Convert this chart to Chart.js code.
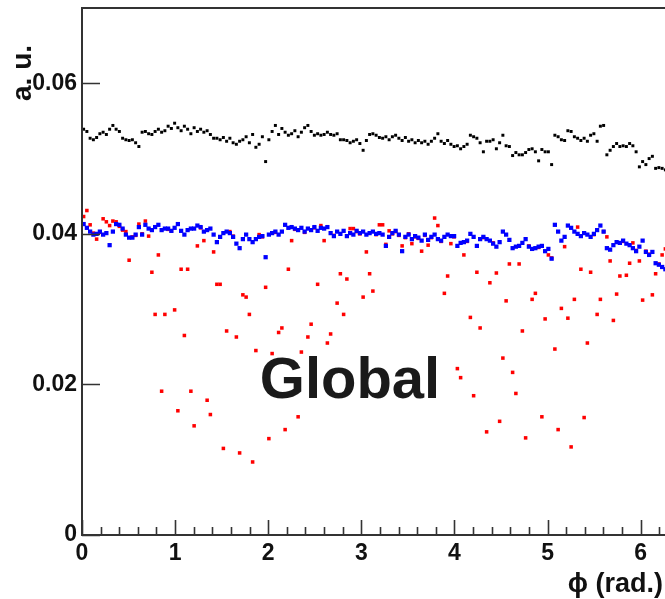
<!DOCTYPE html>
<html>
<head>
<meta charset="utf-8">
<script src="https://cdn.jsdelivr.net/npm/chart.js@4/dist/chart.umd.min.js"></script>
<style>
  html, body { margin: 0; padding: 0; background: #fff; overflow: hidden; }
  #wrap { position: absolute; left: 0; top: 0; width: 700px; height: 599px; }
</style>
</head>
<body>
<div id="wrap"><canvas id="phiChart" width="700" height="599"></canvas></div>
<script>
// phi distributions, 180 bins over [0, 2pi], arbitrary units
const nBins = 180;
const phiMax = 2 * Math.PI;

const hBlack = [
  0.0539,0.0536,0.0527,0.0525,0.0528,0.0533,0.0535,0.0532,0.0539,0.0544,
  0.0539,0.0536,0.0527,0.0525,0.0524,0.0525,0.0521,0.0516,0.0535,0.0536,
  0.0533,0.0532,0.0536,0.0539,0.0535,0.0537,0.0543,0.0540,0.0547,0.0541,
  0.0537,0.0543,0.0539,0.0533,0.0541,0.0536,0.0539,0.0535,0.0537,0.0532,
  0.0527,0.0527,0.0525,0.0528,0.0523,0.0527,0.0521,0.0519,0.0523,0.0525,
  0.0529,0.0521,0.0532,0.0515,0.0519,0.0529,0.0496,0.0525,0.0536,0.0544,
  0.0532,0.0540,0.0535,0.0531,0.0533,0.0537,0.0529,0.0535,0.0541,0.0544,
  0.0536,0.0531,0.0533,0.0531,0.0532,0.0535,0.0532,0.0531,0.0533,0.0525,
  0.0525,0.0524,0.0521,0.0523,0.0525,0.0520,0.0511,0.0524,0.0532,0.0533,
  0.0531,0.0528,0.0527,0.0529,0.0525,0.0529,0.0531,0.0527,0.0524,0.0528,
  0.0523,0.0525,0.0521,0.0524,0.0521,0.0523,0.0519,0.0523,0.0527,0.0533,
  0.0523,0.0520,0.0524,0.0519,0.0516,0.0517,0.0513,0.0516,0.0519,0.0531,
  0.0529,0.0527,0.0521,0.0509,0.0523,0.0523,0.0525,0.0513,0.0521,0.0531,
  0.0517,0.0516,0.0504,0.0508,0.0505,0.0505,0.0508,0.0512,0.0513,0.0509,
  0.0497,0.0512,0.0509,0.0509,0.0492,0.0531,0.0529,0.0525,0.0524,0.0537,
  0.0536,0.0529,0.0527,0.0524,0.0527,0.0523,0.0531,0.0533,0.0523,0.0543,
  0.0544,0.0505,0.0511,0.0516,0.0520,0.0516,0.0517,0.0516,0.0520,0.0517,
  0.0509,0.0489,0.0496,0.0492,0.0500,0.0503,0.0487,0.0488,0.0487,0.0485
];

const hBlue = [
  0.0413,0.0408,0.0403,0.0399,0.0400,0.0403,0.0399,0.0401,0.0385,0.0403,
  0.0413,0.0412,0.0407,0.0399,0.0395,0.0395,0.0399,0.0409,0.0399,0.0412,
  0.0407,0.0405,0.0409,0.0412,0.0405,0.0407,0.0407,0.0404,0.0408,0.0413,
  0.0404,0.0399,0.0405,0.0407,0.0407,0.0411,0.0409,0.0403,0.0405,0.0407,
  0.0399,0.0389,0.0396,0.0401,0.0403,0.0401,0.0396,0.0387,0.0381,0.0393,
  0.0399,0.0393,0.0389,0.0393,0.0396,0.0397,0.0369,0.0399,0.0401,0.0403,
  0.0399,0.0403,0.0412,0.0408,0.0409,0.0407,0.0405,0.0408,0.0403,0.0407,
  0.0405,0.0409,0.0404,0.0408,0.0407,0.0409,0.0401,0.0397,0.0403,0.0400,
  0.0404,0.0397,0.0401,0.0399,0.0404,0.0401,0.0403,0.0399,0.0401,0.0403,
  0.0400,0.0401,0.0399,0.0384,0.0396,0.0401,0.0404,0.0399,0.0377,0.0396,
  0.0399,0.0393,0.0397,0.0395,0.0391,0.0399,0.0392,0.0396,0.0399,0.0393,
  0.0391,0.0396,0.0399,0.0397,0.0397,0.0384,0.0388,0.0389,0.0391,0.0400,
  0.0396,0.0384,0.0393,0.0396,0.0393,0.0391,0.0387,0.0383,0.0389,0.0403,
  0.0399,0.0392,0.0381,0.0383,0.0384,0.0388,0.0393,0.0383,0.0380,0.0381,
  0.0383,0.0384,0.0377,0.0380,0.0367,0.0412,0.0403,0.0391,0.0396,0.0411,
  0.0408,0.0403,0.0400,0.0397,0.0401,0.0399,0.0396,0.0400,0.0405,0.0411,
  0.0403,0.0381,0.0379,0.0385,0.0389,0.0388,0.0391,0.0387,0.0385,0.0381,
  0.0377,0.0383,0.0391,0.0376,0.0372,0.0376,0.0361,0.0359,0.0356,0.0353
];

const hRed = [
  0.0423,0.0431,0.0412,0.0401,0.0393,0.0402,0.0420,0.0416,0.0411,0.0417,
  0.0416,0.0410,0.0405,0.0403,0.0365,0.0396,0.0398,0.0413,0.0400,0.0417,
  0.0397,0.0349,0.0293,0.0372,0.0191,0.0293,0.0406,0.0404,0.0299,0.0165,
  0.0353,0.0265,0.0353,0.0191,0.0145,0.0384,0.0408,0.0391,0.0179,0.0160,
  0.0376,0.0333,0.0333,0.0115,0.0271,0.0403,0.0397,0.0263,0.0109,0.0319,
  0.0316,0.0293,0.0097,0.0245,0.0399,0.0396,0.0329,0.0128,0.0241,0.0402,
  0.0269,0.0275,0.0140,0.0353,0.0391,0.0406,0.0157,0.0243,0.0402,0.0263,
  0.0280,0.0408,0.0333,0.0411,0.0391,0.0255,0.0267,0.0398,0.0308,0.0347,
  0.0293,0.0340,0.0407,0.0407,0.0403,0.0400,0.0316,0.0376,0.0347,0.0324,
  0.0399,0.0412,0.0412,0.0386,0.0404,0.0400,0.0403,0.0398,0.0384,0.0395,
  0.0400,0.0387,0.0396,0.0394,0.0377,0.0398,0.0385,0.0395,0.0421,0.0411,
  0.0390,0.0321,0.0344,0.0387,0.0396,0.0221,0.0209,0.0372,0.0390,0.0289,
  0.0185,0.0349,0.0275,0.0395,0.0137,0.0335,0.0388,0.0348,0.0151,0.0235,
  0.0311,0.0360,0.0216,0.0188,0.0360,0.0271,0.0129,0.0384,0.0313,0.0321,
  0.0382,0.0157,0.0287,0.0372,0.0368,0.0247,0.0140,0.0301,0.0383,0.0288,
  0.0117,0.0313,0.0409,0.0353,0.0156,0.0255,0.0349,0.0399,0.0293,0.0313,
  0.0403,0.0396,0.0364,0.0285,0.0320,0.0344,0.0390,0.0345,0.0361,0.0388,
  0.0378,0.0364,0.0312,0.0377,0.0373,0.0319,0.0347,0.0360,0.0372,0.0380
];

const xTicks = [0, 1, 2, 3, 4, 5, 6];
const yTicks = [0, 0.02, 0.04, 0.06];
const yTickLabels = ['0', '0.02', '0.04', '0.06'];

const FONT = '"Liberation Sans", Arial, Helvetica, sans-serif';

// bin centres
const binWidth = phiMax / nBins;
const toPoints = h => h.map((v, i) => ({ x: (i + 0.5) * binWidth, y: v }));

// ROOT-like frame: axis lines, inward ticks, titles and the big label
const framePlugin = {
  id: 'frame',
  afterDraw(chart) {
    const { ctx, chartArea: a, scales: { x, y } } = chart;
    ctx.save();
    ctx.strokeStyle = '#333';
    ctx.lineWidth = 2;
    ctx.beginPath();
    ctx.moveTo(a.left, a.top);
    ctx.lineTo(a.right, a.top);
    ctx.lineTo(a.right, a.bottom);
    ctx.lineTo(a.left, a.bottom);
    ctx.closePath();
    ctx.stroke();

    // x ticks: major every 1, minor every 0.2
    ctx.lineWidth = 1.6;
    ctx.beginPath();
    for (let k = 0; k * 0.2 <= phiMax; k++) {
      const px = Math.round(x.getPixelForValue(k * 0.2)) + 0.5;
      const len = k % 5 === 0 ? 15 : 8;
      ctx.moveTo(px, a.bottom);
      ctx.lineTo(px, a.bottom - len);
    }
    // y ticks, major only
    yTicks.forEach(v => {
      const py = Math.round(y.getPixelForValue(v)) + 0.5;
      ctx.moveTo(a.left, py);
      ctx.lineTo(a.left + 18, py);
    });
    ctx.stroke();

    ctx.fillStyle = '#111';
    // x title
    ctx.font = 'bold 27px ' + FONT;
    ctx.textAlign = 'right';
    ctx.textBaseline = 'alphabetic';
    ctx.fillText('\u03d5 (rad.)', 663, 592);

    // y title, rotated
    ctx.save();
    ctx.font = 'bold 28px ' + FONT;
    ctx.translate(31, 101);
    ctx.rotate(-Math.PI / 2);
    ctx.textAlign = 'left';
    ctx.fillText('a. u.', 0, 0);
    ctx.restore();

    // label in the middle of the pad
    ctx.fillStyle = '#1a1a1a';
    ctx.font = 'bold 58px ' + FONT;
    ctx.textAlign = 'center';
    ctx.fillText('Global', 350, 398);
    ctx.restore();
  }
};

const config = {
  type: 'scatter',
  data: {
    datasets: [
      {
        label: 'blue',
        data: toPoints(hBlue),
        pointStyle: 'rect',
        pointRadius: 3,
        backgroundColor: '#0000ff',
        borderWidth: 0,
        order: 1
      },
      {
        label: 'red',
        data: toPoints(hRed),
        pointStyle: 'rect',
        pointRadius: 2.5,
        backgroundColor: '#ff0000',
        borderWidth: 0,
        order: 2
      },
      {
        label: 'black',
        data: toPoints(hBlack),
        pointStyle: 'rect',
        pointRadius: 2.1,
        backgroundColor: '#000000',
        borderWidth: 0,
        order: 3
      }
    ]
  },
  options: {
    responsive: false,
    animation: false,
    events: [],
    layout: { padding: { left: 0, top: 8, right: 33, bottom: 0 } },
    plugins: {
      legend: { display: false },
      tooltip: { enabled: false }
    },
    scales: {
      x: {
        type: 'linear',
        min: 0,
        max: phiMax,
        border: { display: false },
        grid: { display: false, drawTicks: false },
        afterBuildTicks: s => { s.ticks = xTicks.map(v => ({ value: v })); },
        afterFit: s => {
          s.height = 64;
          s.paddingLeft = 0;
          s.paddingRight = 0;
        },
        ticks: {
          padding: 5,
          color: '#111',
          font: { family: FONT, size: 23, weight: 'bold' },
          callback: v => String(v)
        }
      },
      y: {
        min: 0,
        max: 0.07,
        border: { display: false },
        grid: { display: false, drawTicks: false },
        afterBuildTicks: s => { s.ticks = yTicks.map(v => ({ value: v })); },
        afterFit: s => {
          s.width = 82;
          s.paddingTop = 0;
          s.paddingBottom = 0;
        },
        ticks: {
          padding: 5,
          color: '#111',
          font: { family: FONT, size: 23, weight: 'bold' },
          callback: v => yTickLabels[yTicks.indexOf(v)]
        }
      }
    }
  },
  plugins: [framePlugin]
};

const phiChart = new Chart(document.getElementById('phiChart'), config);
</script>
</body>
</html>
